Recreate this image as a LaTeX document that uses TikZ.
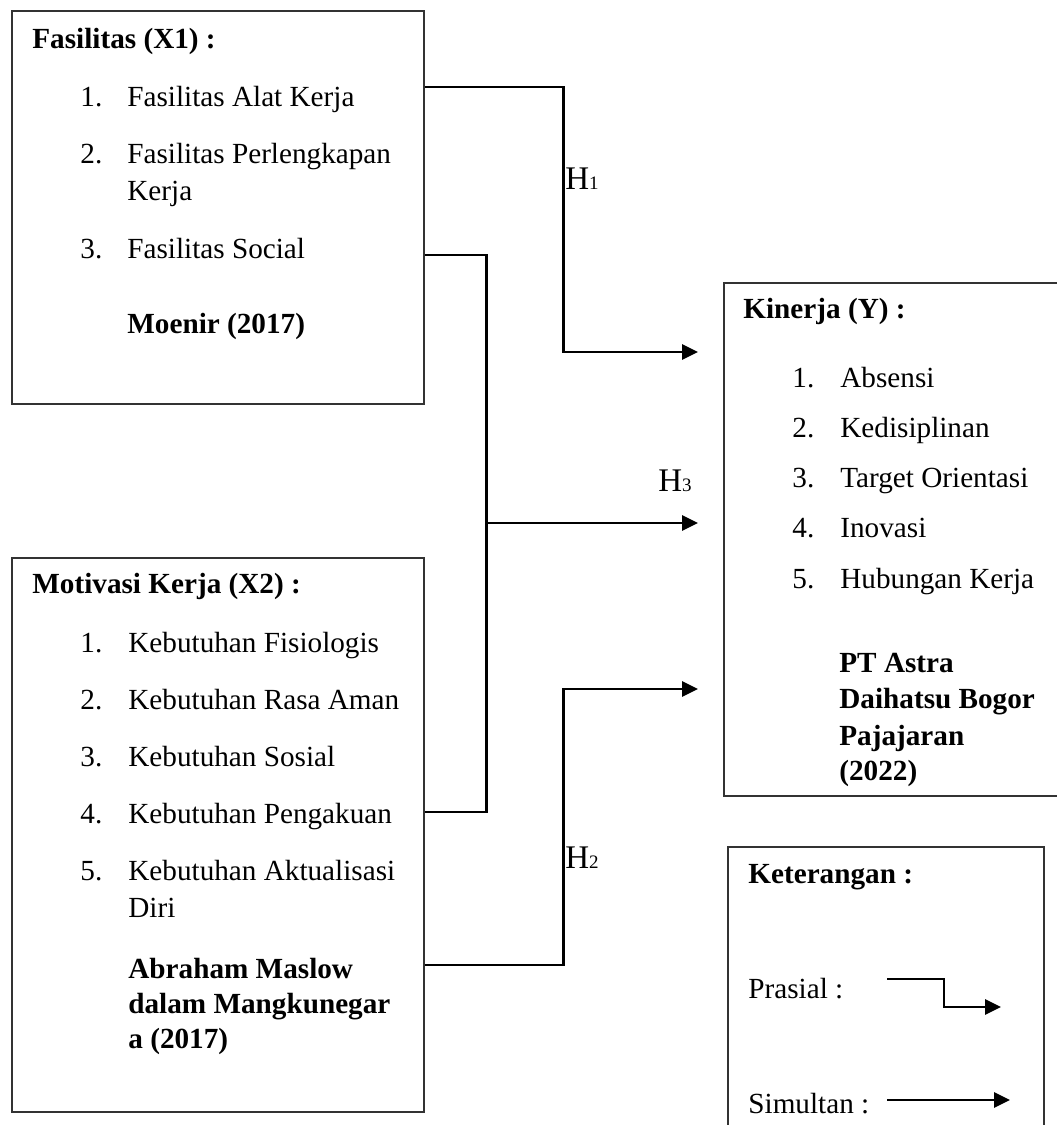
\documentclass[tikz,border=0pt]{standalone}
\usepackage{fontspec}
\setmainfont{Liberation Serif}
\usetikzlibrary{arrows.meta,calc}

\tikzset{
  box/.style={draw=black!80, line width=0.9pt, anchor=north west, inner sep=0pt},
  txt/.style={anchor=base west, inner sep=0pt, font=\fontsize{14.6}{17}\selectfont},
  ttl/.style={txt, font=\fontsize{14.6}{17}\selectfont\bfseries},
  hlab/.style={anchor=base west, inner sep=0pt, font=\fontsize{16.5}{18}\selectfont},
  wire/.style={line width=1.4pt},
  link/.style={wire, -{Triangle[length=8pt,width=7.5pt]}},
}
\newcommand{\hyp}[1]{H{\fontsize{9.5}{10}\selectfont #1}}

\begin{document}
\begin{tikzpicture}[x=0.5pt, y=-0.5pt]
        \useasboundingbox (0,0) rectangle (1056,1125);

        % Draw the boxes
        \node[box, minimum width=206pt, minimum height=196.5pt] (fas) at (11,10) {};
        \node[box, minimum width=206pt, minimum height=277pt] (mot) at (11,557) {};
        \node[box, minimum width=170pt, minimum height=256.5pt] (kin) at (723,282) {};
        \node[box, minimum width=158pt, minimum height=146pt] (ket) at (727,846) {};

        % Fasilitas (X1)
        \node[ttl] (fasT) at (32,48) {Fasilitas (X1) :};
        \node[txt] (fasN1) at (80,106) {1.};
        \node[txt] (fasI1) at (127,106) {Fasilitas Alat Kerja};
        \node[txt] (fasN2) at (80,163) {2.};
        \node[txt] (fasI2) at (127,163) {Fasilitas Perlengkapan};
        \node[txt] (fasI2b) at (127,200) {Kerja};
        \node[txt] (fasN3) at (80,258) {3.};
        \node[txt] (fasI3) at (127,258) {Fasilitas Social};
        \node[ttl] (fasR) at (127,333) {Moenir (2017)};

        % Motivasi Kerja (X2)
        \node[ttl] (motT) at (32,593) {Motivasi Kerja (X2) :};
        \node[txt] (motN1) at (80,652) {1.};
        \node[txt] (motI1) at (128,652) {Kebutuhan Fisiologis};
        \node[txt] (motN2) at (80,709) {2.};
        \node[txt] (motI2) at (128,709) {Kebutuhan Rasa Aman};
        \node[txt] (motN3) at (80,766) {3.};
        \node[txt] (motI3) at (128,766) {Kebutuhan Sosial};
        \node[txt] (motN4) at (80,823) {4.};
        \node[txt] (motI4) at (128,823) {Kebutuhan Pengakuan};
        \node[txt] (motN5) at (80,880) {5.};
        \node[txt] (motI5) at (128,880) {Kebutuhan Aktualisasi};
        \node[txt] (motI5b) at (128,917) {Diri};
        \node[ttl] (motR1) at (128,978) {Abraham Maslow};
        \node[ttl] (motR2) at (128,1013) {dalam Mangkunegar};
        \node[ttl] (motR3) at (128,1048) {a (2017)};

        % Kinerja (Y)
        \node[ttl] (kinT) at (743,318) {Kinerja (Y) :};
        \node[txt] (kinN1) at (792,387) {1.};
        \node[txt] (kinI1) at (840,387) {Absensi};
        \node[txt] (kinN2) at (792,437) {2.};
        \node[txt] (kinI2) at (840,437) {Kedisiplinan};
        \node[txt] (kinN3) at (792,487) {3.};
        \node[txt] (kinI3) at (840,487) {Target Orientasi};
        \node[txt] (kinN4) at (792,537) {4.};
        \node[txt] (kinI4) at (840,537) {Inovasi};
        \node[txt] (kinN5) at (792,588) {5.};
        \node[txt] (kinI5) at (840,588) {Hubungan Kerja};
        \node[ttl] (kinR1) at (839,672) {PT Astra};
        \node[ttl] (kinR2) at (839,708) {Daihatsu Bogor};
        \node[ttl] (kinR3) at (839,745) {Pajajaran};
        \node[ttl] (kinR4) at (839,780) {(2022)};

        % Keterangan
        \node[ttl] (ketT) at (748,883) {Keterangan :};
        \node[txt] (ketP) at (748,998) {Prasial :};
        \node[txt] (ketS) at (748,1113) {Simultan :};

        % Arrow ends in front of Kinerja
        \coordinate (t1) at ($(kin.north west)+(-25,70)$);
        \coordinate (t3) at ($(kin.north west)+(-25,241)$);
        \coordinate (t2) at ($(kin.north west)+(-25,407)$);

        % H1
        \draw[link] ($(fas.north east)+(0,77)$) -- ++(139,0) |- (t1);
        \node[hlab] (h1) at (565,189) {\hyp{1}};

        % H3
        \draw[wire] ($(fas.north east)+(0,245)$) -- ++(62,0) coordinate (j3)
            |- ($(mot.north east)+(0,255)$);
        \draw[link] (j3 |- t3) -- (t3);
        \node[hlab] (h3) at (658,491) {\hyp{3}};

        % H2
        \draw[link] ($(mot.north east)+(0,408)$) -- ++(139,0) |- (t2);
        \node[hlab] (h2) at (565,868) {\hyp{2}};

        % Legend arrows
        \coordinate (pA) at (887,979);
        \coordinate (pB) at (1001,1007);
        \coordinate (sA) at (887,1100);
        \coordinate (sB) at (1010,1100);
        \draw[link] (pA) -- ++(57,0) |- (pB);
        \draw[link] (sA) -- (sB);
    \end{tikzpicture}
\end{document}
